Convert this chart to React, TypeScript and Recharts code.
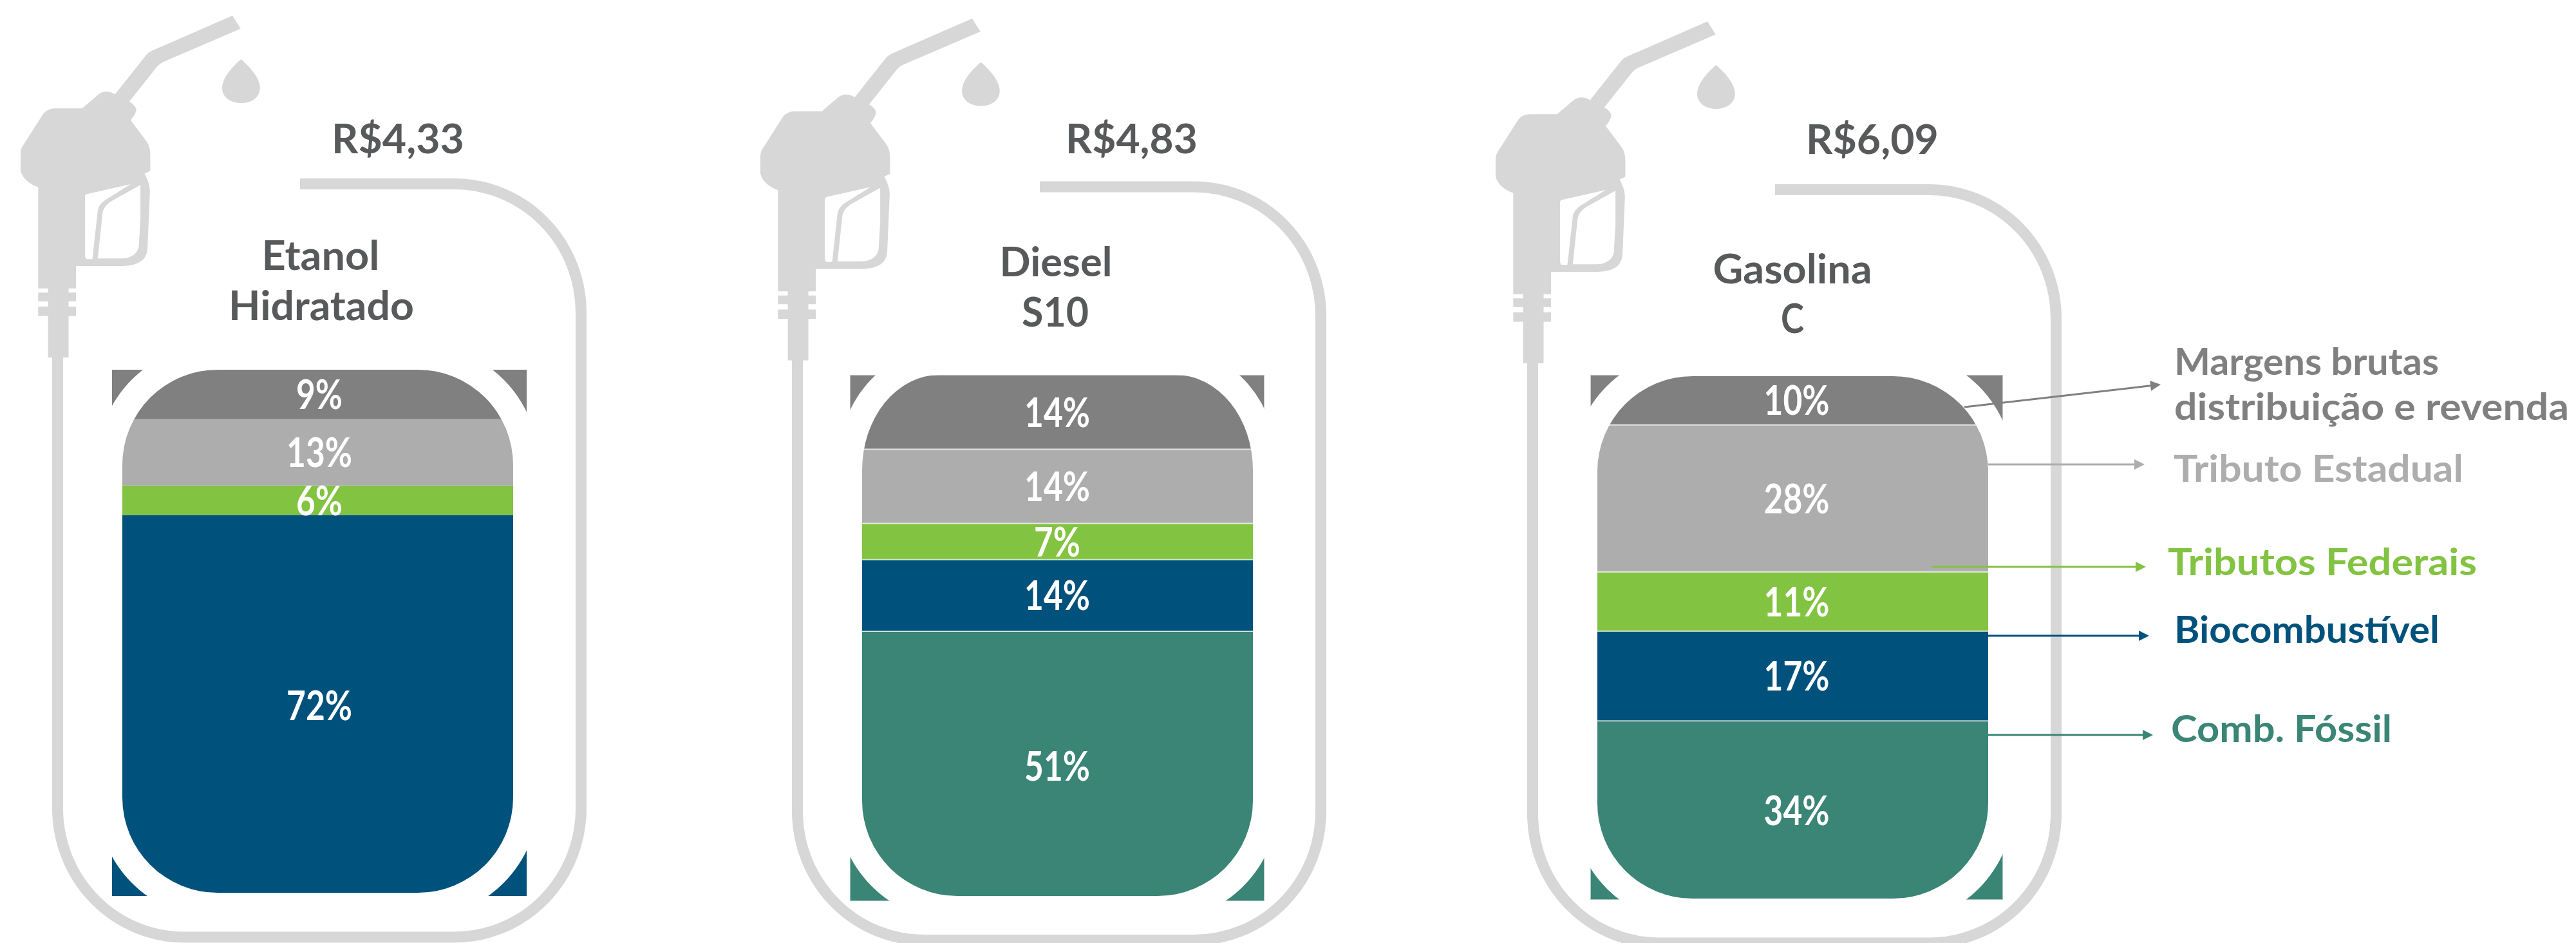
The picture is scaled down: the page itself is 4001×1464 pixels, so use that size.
import React from "react";
import { Bar, BarChart, LabelList, XAxis, YAxis } from "recharts";

// Shares per fuel (printed labels are the rounded values)
const fuels = ["Etanol Hidratado", "Diesel S10", "Gasolina C"];
const prices = ["R$4,33", "R$4,83", "R$6,09"];
const fossil = [null, 51.3, 34.1];
const bio = [72.4, 13.6, 17.1];
const federal = [5.6, 6.9, 11.3];
const estadual = [12.6, 14.1, 28.0];
const margens = [9.4, 14.1, 9.5];

const COLORS = {
  fossil: "#3A8575",
  bio: "#00527C",
  federal: "#82C341",
  estadual: "#ADADAD",
  margens: "#808080",
  hose: "#D7D7D7",
  text: "#58595B",
};
const FONT = "Lato, sans-serif";

// layout of each panel, in page pixels
const PAD = 60;
const panels = [
  {
    rect: { x: 174, y: 574, w: 644, h: 817 },
    inner: { x0: 190, x1: 797, y0: 574, y1: 1386, topRx: 148 },
    dx: 0,
    dy: 0,
    stroke: false,
    titles: [
      { text: "Etanol", x: 498, y: 419, w: 183 },
      { text: "Hidratado", x: 499, y: 497, w: 288 },
    ],
    price: { x: 618, y: 238, w: 206 },
  },
  {
    rect: { x: 1320, y: 582, w: 644, h: 817 },
    inner: { x0: 1339, x1: 1946, y0: 582, y1: 1391, topRx: 120 },
    dx: 1149,
    dy: 4.5,
    stroke: true,
    titles: [
      { text: "Diesel", x: 1640, y: 429, w: 175 },
      { text: "S10", x: 1639, y: 506.5, w: 104 },
    ],
    price: { x: 1757.5, y: 237.5, w: 205 },
  },
  {
    rect: { x: 2470, y: 582, w: 641, h: 815 },
    inner: { x0: 2481, x1: 3088, y0: 584, y1: 1395, topRx: 148 },
    dx: 2291,
    dy: 9,
    stroke: true,
    titles: [
      { text: "Gasolina", x: 2784, y: 440, w: 247 },
      { text: "C", x: 2784, y: 517, w: 36 },
    ],
    price: { x: 2908, y: 238.5, w: 206 },
  },
];

const legendItems = [
  { lines: [{ text: "Margens brutas", x: 3377, y: 582, w: 411 }, { text: "distribuição e revenda", x: 3377, y: 652, w: 613 }], color: COLORS.margens, from: [3051, 632], to: [3356, 597] },
  { lines: [{ text: "Tributo Estadual", x: 3376, y: 748, w: 450 }], color: COLORS.estadual, from: [3088, 721], to: [3331, 721] },
  { lines: [{ text: "Tributos Federais", x: 3367, y: 893, w: 480 }], color: COLORS.federal, from: [3000, 880], to: [3333, 880] },
  { lines: [{ text: "Biocombustível", x: 3377, y: 998, w: 412 }], color: COLORS.bio, from: [3088, 987], to: [3338, 987] },
  { lines: [{ text: "Comb. Fóssil", x: 3372, y: 1152, w: 343 }], color: COLORS.fossil, from: [3088, 1141], to: [3344, 1141] },
];

const NOZZLE =
  "M566 50 L586 92 L398 198 Q388 204 382 214 L315 325 Q332 340 332 352 Q330 368 318 385 L358 455 Q366 472 366 495 L366 548 L352 556 Q366 590 365 615 L359 800 Q355 850 300 852 L185 852 L185 924 L167 924 L167 937 L185 937 L185 965 L167 965 L167 982 L185 982 L185 1012 L167 1012 L167 1145 L117 1145 L117 1012 L93 1012 L93 982 L117 982 L117 965 L93 965 L93 937 L117 937 L117 924 L93 924 L93 600 Q55 580 50 545 L50 495 Q50 475 58 462 L105 365 Q115 347 135 347 L200 347 L240 302 Q258 285 280 302 L355 178 Q363 165 378 158 Z " +
  "M210 622 L318 590 L262 636 Q240 652 238 675 L225 830 L212 830 Q207 828 207 815 L207 630 Q207 624 210 622 Z " +
  "M342 592 L342 700 L338 790 Q332 826 295 828 L238 828 L250 680 Q253 660 270 645 Z";
const DROP = "M587 190 C565 215 541 250 541 282 C541 310 560 330 587 330 C614 330 633 310 633 282 C633 250 609 215 587 190 Z";

const roundedRect = (x0: number, x1: number, y0: number, y1: number, topRx: number, botRx: number, ry: number) =>
  `M${x0 + topRx} ${y0} H${x1 - topRx} A${topRx} ${ry} 0 0 1 ${x1} ${y0 + ry} V${y1 - ry} ` +
  `A${botRx} ${ry} 0 0 1 ${x1 - botRx} ${y1} H${x0 + botRx} A${botRx} ${ry} 0 0 1 ${x0} ${y1 - ry} V${y0 + ry} ` +
  `A${topRx} ${ry} 0 0 1 ${x0 + topRx} ${y0} Z`;

const renderPct = (props: any) => {
  const { value } = props;
  if (value === null || value === undefined) return null;
  const box = props.viewBox ?? props;
  const label = `${Math.round(value)}%`;
  return (
    <text
      x={box.x + box.width / 2}
      y={box.y + box.height / 2 + 23}
      fill="#FFFFFF"
      fontFamily={FONT}
      fontWeight={700}
      fontSize={63}
      textAnchor="middle"
      textLength={label.length === 2 ? 72 : 102}
      lengthAdjust="spacingAndGlyphs"
    >
      {label}
    </text>
  );
};

const FuelChart = ({ index }: { index: number }) => {
  const p = panels[index];
  const data = [
    {
      name: fuels[index],
      fossil: fossil[index],
      bio: bio[index],
      federal: federal[index],
      estadual: estadual[index],
      margens: margens[index],
    },
  ];
  const barStroke = p.stroke ? { stroke: "#FFFFFF", strokeOpacity: 0.55, strokeWidth: 2 } : {};
  const series = ["fossil", "bio", "federal", "estadual", "margens"] as const;
  return (
    <div style={{ position: "absolute", left: p.rect.x - PAD, top: p.rect.y - PAD }}>
      <BarChart
        width={p.rect.w + PAD * 2}
        height={p.rect.h + PAD * 2}
        data={data}
        margin={{ top: PAD, right: PAD, bottom: PAD, left: PAD }}
        barCategoryGap={0}
      >
        <XAxis dataKey="name" hide />
        <YAxis hide domain={[0, 100]} />
        {series.map((key) => (
          <Bar key={key} dataKey={key} stackId="tank" fill={COLORS[key]} isAnimationActive={false} {...barStroke}>
            <LabelList dataKey={key} content={renderPct} />
          </Bar>
        ))}
      </BarChart>
    </div>
  );
};

// white band that cuts the tank shape out of the stacked bar
const TankBand = ({ inner }: { inner: { x0: number; x1: number; y0: number; y1: number; topRx: number } }) => {
  const { x0, x1, y0, y1, topRx } = inner;
  const ring = 40;
  const d =
    roundedRect(x0, x1, y0, y1, topRx, 148, 148) +
    " " +
    roundedRect(x0 - ring, x1 + ring, y0 - ring, y1 + ring, topRx + ring, 148 + ring, 148 + ring);
  return <path d={d} fill="#FFFFFF" fillRule="evenodd" />;
};

const Pump = ({ dx, dy }: { dx: number; dy: number }) => (
  <g transform={`translate(${dx} ${dy})`}>
    <path
      d="M466 285.5 H705 A197 200 0 0 1 902.5 485.5 V1255 A197 200 0 0 1 705.5 1455 H287 A197 200 0 0 1 89.5 1255 V550"
      fill="none"
      stroke={COLORS.hose}
      strokeWidth={17}
    />
    <g transform="scale(0.6378 0.4847)" fill={COLORS.hose}>
      <path d={NOZZLE} fillRule="evenodd" />
      <path d={DROP} />
    </g>
  </g>
);

const Caption = ({ t, color, anchor, size = 63 }: { t: { text?: string; x: number; y: number; w: number }; color: string; anchor: string; size?: number }) => (
  <text
    x={t.x}
    y={t.y}
    fill={color}
    fontFamily={FONT}
    fontWeight={700}
    fontSize={size}
    textAnchor={anchor as any}
    textLength={t.w}
    lengthAdjust="spacingAndGlyphs"
  >
    {t.text}
  </text>
);

const Arrow = ({ from, to, color }: { from: number[]; to: number[]; color: string }) => {
  const a = Math.atan2(to[1] - from[1], to[0] - from[0]);
  const deg = (a * 180) / Math.PI;
  const endX = to[0] - 16 * Math.cos(a);
  const endY = to[1] - 16 * Math.sin(a);
  return (
    <g>
      <line x1={from[0]} y1={from[1]} x2={endX} y2={endY} stroke={color} strokeWidth={3} />
      <path d="M0 0 L-16 -8 L-16 8 Z" fill={color} transform={`translate(${to[0]} ${to[1]}) rotate(${deg})`} />
    </g>
  );
};

export default function App() {
  return (
    <div style={{ position: "absolute", left: 0, top: 0, width: 4001, height: 1464, overflow: "hidden", background: "#fff" }}>
      <svg width={4001} height={1464} style={{ position: "absolute", left: 0, top: 0 }}>
        {panels.map((p, i) => (
          <Pump key={i} dx={p.dx} dy={p.dy} />
        ))}
      </svg>
      {panels.map((_, i) => (
        <FuelChart key={i} index={i} />
      ))}
      <svg width={4001} height={1464} style={{ position: "absolute", left: 0, top: 0 }}>
        {panels.map((p, i) => (
          <g key={i}>
            <TankBand inner={p.inner} />
            <Caption t={{ ...p.price, text: prices[i] }} color={COLORS.text} anchor="middle" />
            {p.titles.map((t) => (
              <Caption key={t.text} t={t} color={COLORS.text} anchor="middle" />
            ))}
          </g>
        ))}
        {legendItems.map((item) => (
          <g key={item.lines[0].text}>
            <Arrow from={item.from} to={item.to} color={item.color} />
            {item.lines.map((l) => (
              <Caption key={l.text} t={l} color={item.color} anchor="start" size={58} />
            ))}
          </g>
        ))}
      </svg>
    </div>
  );
}
